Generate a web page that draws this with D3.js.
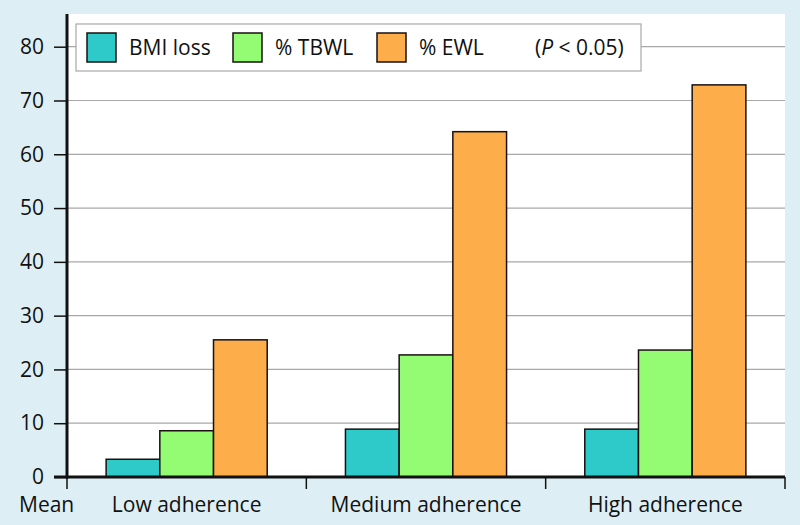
<!DOCTYPE html>
<html><head><meta charset="utf-8">
<script src="https://cdn.jsdelivr.net/npm/d3@7"></script>
<style>body{margin:0;background:#ddeff4;} svg{display:block;}</style>
</head><body>
<svg id="c" width="800" height="525"></svg>
<script>
const categories = ["Low adherence", "Medium adherence", "High adherence"];
const seriesNames = ["BMI loss", "% TBWL", "% EWL"];
const bmiLoss = [3.3, 8.9, 8.9];
const tbwl = [8.6, 22.7, 23.6];
const ewl = [25.5, 64.2, 72.9];
const yTicks = [0, 10, 20, 30, 40, 50, 60, 70, 80];
const colors = ["#2ecaca", "#93fc72", "#fdae4b"];
const series = [bmiLoss, tbwl, ewl];

const svg = d3.select("#c");
const font = "'Open Sans', sans-serif";
const L = 67, R = 785, T = 14, B = 477;
svg.append("rect").attr("width", 800).attr("height", 525).attr("fill", "#ddeff4");
svg.append("rect").attr("x", L).attr("y", T).attr("width", R - L).attr("height", B - T).attr("fill", "#fff");

const x = d3.scaleBand().domain(categories).range([L, R]).paddingInner(0).paddingOuter(0);
const y = d3.scaleLinear().domain([0, 80]).range([B, 46.7]);
const barW = 53.7;

// gridlines
svg.append("g").selectAll("line").data(yTicks.filter(d => d > 0)).join("line")
  .attr("x1", L).attr("x2", R).attr("y1", d => y(d)).attr("y2", d => y(d))
  .attr("stroke", "#a8a8a8").attr("stroke-width", 1.2);

// bars
categories.forEach((c, i) => {
  const cx = x(c) + x.bandwidth() / 2;
  series.forEach((s, j) => {
    svg.append("rect")
      .attr("x", cx - 1.5 * barW + j * barW)
      .attr("y", y(s[i]))
      .attr("width", barW)
      .attr("height", y(0) - y(s[i]))
      .attr("fill", colors[j]).attr("stroke", "#1a1010").attr("stroke-width", 1.5);
  });
});

// y axis
const yAxis = d3.axisLeft(y).tickValues(yTicks).tickSize(13).tickPadding(10);
const gy = svg.append("g").attr("transform", `translate(${L},0)`).call(yAxis);
gy.select(".domain").remove();
gy.selectAll(".tick line").attr("stroke", "#111").attr("stroke-width", 1.5);
gy.selectAll(".tick text").attr("font-family", font).attr("font-size", 21).attr("fill", "#111");
svg.append("line").attr("x1", L).attr("x2", L).attr("y1", T).attr("y2", B + 1.5).attr("stroke", "#111").attr("stroke-width", 3);

// x axis
svg.append("line").attr("x1", L - 13).attr("x2", R).attr("y1", B).attr("y2", B).attr("stroke", "#111").attr("stroke-width", 3);
const bounds = [L].concat(categories.map(c => x(c) + x.bandwidth()));
svg.append("g").selectAll("line").data(bounds).join("line")
  .attr("x1", d => d).attr("x2", d => d).attr("y1", B).attr("y2", B + 12)
  .attr("stroke", "#111").attr("stroke-width", 1.5);
svg.append("g").selectAll("text").data(categories).join("text")
  .attr("x", d => x(d) + x.bandwidth() / 2).attr("y", 512)
  .attr("text-anchor", "middle").attr("font-family", font).attr("font-size", 21).attr("fill", "#111")
  .text(d => d);
svg.append("text").attr("x", 19).attr("y", 512).attr("font-family", font).attr("font-size", 21).attr("fill", "#111").text("Mean");

// legend
const lg = svg.append("g");
lg.append("rect").attr("x", 76).attr("y", 24).attr("width", 565).attr("height", 47)
  .attr("fill", "#fff").attr("stroke", "#a8a8a8").attr("stroke-width", 1.2);
const lx = [87, 233, 377];
seriesNames.forEach((n, j) => {
  lg.append("rect").attr("x", lx[j]).attr("y", 33).attr("width", 29).attr("height", 29)
    .attr("fill", colors[j]).attr("stroke", "#1a1010").attr("stroke-width", 1.5);
  lg.append("text").attr("x", lx[j] + 42).attr("y", 55).attr("font-family", font).attr("font-size", 21).attr("fill", "#111").text(n);
});
const pt = lg.append("text").attr("x", 535).attr("y", 55).attr("font-family", font).attr("font-size", 21).attr("fill", "#111");
pt.append("tspan").text("(");
pt.append("tspan").attr("font-style", "italic").text("P");
pt.append("tspan").text(" < 0.05)");
</script>
</body></html>
